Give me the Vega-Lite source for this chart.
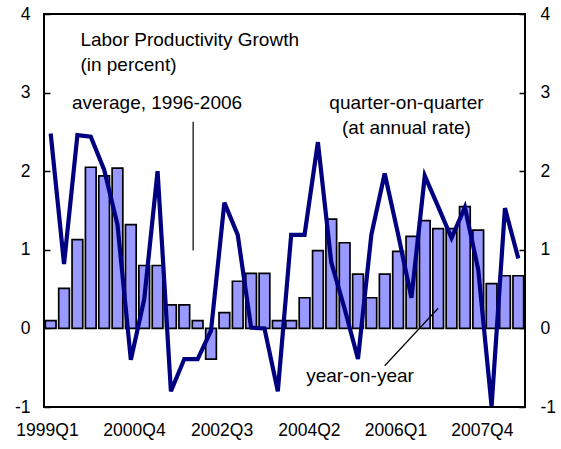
{
  "$schema": "https://vega.github.io/schema/vega-lite/v6.json",
  "width": 481,
  "height": 393,
  "autosize": "none",
  "padding": {"left": 44, "top": 14, "right": 36, "bottom": 42},
  "background": "white",
  "config": {
    "font": "Liberation Sans",
    "view": {"stroke": "#000", "strokeWidth": 2},
    "axis": {"grid": false, "labelColor": "#000", "labelFont": "Liberation Sans", "labelFontSize": 17.5, "domain": false}
  },
  "datasets": {
    "prod": [
      {"q": "1999Q1", "yoy": 0.10, "qoq": 2.48},
      {"q": "1999Q2", "yoy": 0.51, "qoq": 0.82},
      {"q": "1999Q3", "yoy": 1.13, "qoq": 2.46},
      {"q": "1999Q4", "yoy": 2.05, "qoq": 2.44},
      {"q": "2000Q1", "yoy": 1.94, "qoq": 2.02},
      {"q": "2000Q2", "yoy": 2.04, "qoq": 1.32},
      {"q": "2000Q3", "yoy": 1.32, "qoq": -0.40},
      {"q": "2000Q4", "yoy": 0.80, "qoq": 0.37},
      {"q": "2001Q1", "yoy": 0.80, "qoq": 2.00},
      {"q": "2001Q2", "yoy": 0.30, "qoq": -0.80},
      {"q": "2001Q3", "yoy": 0.30, "qoq": -0.39},
      {"q": "2001Q4", "yoy": 0.10, "qoq": -0.39},
      {"q": "2002Q1", "yoy": -0.39, "qoq": -0.03},
      {"q": "2002Q2", "yoy": 0.20, "qoq": 1.60},
      {"q": "2002Q3", "yoy": 0.60, "qoq": 1.19},
      {"q": "2002Q4", "yoy": 0.70, "qoq": 0.01},
      {"q": "2003Q1", "yoy": 0.70, "qoq": 0.00},
      {"q": "2003Q2", "yoy": 0.10, "qoq": -0.80},
      {"q": "2003Q3", "yoy": 0.10, "qoq": 1.19},
      {"q": "2003Q4", "yoy": 0.39, "qoq": 1.19},
      {"q": "2004Q1", "yoy": 0.99, "qoq": 2.37},
      {"q": "2004Q2", "yoy": 1.39, "qoq": 0.84},
      {"q": "2004Q3", "yoy": 1.09, "qoq": 0.25},
      {"q": "2004Q4", "yoy": 0.69, "qoq": -0.39},
      {"q": "2005Q1", "yoy": 0.39, "qoq": 1.19},
      {"q": "2005Q2", "yoy": 0.69, "qoq": 1.97},
      {"q": "2005Q3", "yoy": 0.98, "qoq": 1.20},
      {"q": "2005Q4", "yoy": 1.17, "qoq": 0.39},
      {"q": "2006Q1", "yoy": 1.37, "qoq": 1.94},
      {"q": "2006Q2", "yoy": 1.27, "qoq": 1.55},
      {"q": "2006Q3", "yoy": 1.27, "qoq": 1.15},
      {"q": "2006Q4", "yoy": 1.55, "qoq": 1.54},
      {"q": "2007Q1", "yoy": 1.25, "qoq": 0.75},
      {"q": "2007Q2", "yoy": 0.57, "qoq": -0.99},
      {"q": "2007Q3", "yoy": 0.67, "qoq": 1.53},
      {"q": "2007Q4", "yoy": 0.67, "qoq": 0.89}
    ],
    "notesTitle": [
      {"q": "1999Q3", "v": 3.67, "label": "Labor Productivity Growth"},
      {"q": "1999Q3", "v": 3.35, "label": "(in percent)"}
    ],
    "notesAvg": [
      {"q": "1999Q2", "v": 2.87, "label": "average, 1996-2006"}
    ],
    "notesQoq": [
      {"q": "2005Q4", "v": 2.865, "label": "quarter-on-quarter"},
      {"q": "2005Q4", "v": 2.545, "label": "(at annual rate)"}
    ],
    "notesYoy": [
      {"q": "2004Q4", "v": -0.6, "label": "year-on-year"}
    ],
    "pointerAvg": [
      {"q": "2001Q4", "v": 2.63, "v2": 0.99}
    ],
    "pointerYoy": [
      {"q": "2005Q2", "q2": "2006Q2", "v": -0.475, "v2": 0.256}
    ]
  },
  "layer": [
    {
      "data": {"name": "prod"},
      "mark": {"type": "bar", "fill": "#9999ff", "stroke": "#000", "strokeWidth": 1.7},
      "encoding": {
        "x": {
          "field": "q", "type": "ordinal", "sort": null,
          "scale": {"paddingInner": 0.2, "paddingOuter": 0.1},
          "axis": {
            "title": null, "ticks": false, "labelAngle": 0, "labelPadding": 14,
            "values": ["1999Q1", "2000Q4", "2002Q3", "2004Q2", "2006Q1", "2007Q4"],
            "labelOffset": {
              "condition": [
                {"test": "datum.value == '2000Q4'", "value": -9.7},
                {"test": "datum.value == '2002Q3'", "value": -15.7},
                {"test": "datum.value == '2004Q2'", "value": -21.8},
                {"test": "datum.value == '2006Q1'", "value": -28.8},
                {"test": "datum.value == '2007Q4'", "value": -36}
              ],
              "value": -3.2
            }
          }
        },
        "y": {
          "field": "yoy", "type": "quantitative",
          "scale": {"domain": [-1, 4], "nice": false, "zero": false},
          "axis": {"title": null, "values": [-1, 0, 1, 2, 3, 4], "labelExpr": "datum.value + ''", "tickSize": -6, "tickColor": "#000", "tickWidth": 1.5, "labelPadding": 20}
        }
      }
    },
    {
      "mark": {"type": "rule", "color": "#000", "strokeWidth": 2},
      "encoding": {"y": {"datum": 0, "type": "quantitative", "axis": null}}
    },
    {
      "mark": {"type": "rule", "color": "#000", "strokeWidth": 1.5},
      "encoding": {"y": {"datum": 0.92, "type": "quantitative", "axis": null}}
    },
    {
      "data": {"name": "prod"},
      "mark": {"type": "line", "color": "#000080", "strokeWidth": 4.2, "strokeJoin": "miter"},
      "encoding": {
        "x": {"field": "q", "type": "ordinal", "sort": null},
        "y": {
          "field": "qoq", "type": "quantitative",
          "axis": {"orient": "right", "title": null, "values": [-1, 0, 1, 2, 3, 4], "labelExpr": "datum.value + ''", "tickSize": -6, "tickColor": "#000", "tickWidth": 1.5, "labelPadding": 21}
        }
      }
    },
    {
      "data": {"name": "pointerAvg"},
      "mark": {"type": "rule", "color": "#000", "strokeWidth": 1.2, "xOffset": -4.5},
      "encoding": {
        "x": {"field": "q", "type": "ordinal", "sort": null},
        "y": {"field": "v", "type": "quantitative", "axis": null},
        "y2": {"field": "v2"}
      }
    },
    {
      "data": {"name": "pointerYoy"},
      "mark": {"type": "rule", "color": "#000", "strokeWidth": 1.2},
      "encoding": {
        "x": {"field": "q", "type": "ordinal", "sort": null},
        "x2": {"field": "q2"},
        "y": {"field": "v", "type": "quantitative", "axis": null},
        "y2": {"field": "v2"}
      }
    },
    {
      "data": {"name": "notesTitle"},
      "mark": {"type": "text", "fontSize": 19, "baseline": "middle", "align": "left", "color": "#000", "dx": 3},
      "encoding": {
        "x": {"field": "q", "type": "ordinal", "sort": null},
        "y": {"field": "v", "type": "quantitative", "axis": null},
        "text": {"field": "label"}
      }
    },
    {
      "data": {"name": "notesAvg"},
      "mark": {"type": "text", "fontSize": 19, "baseline": "middle", "align": "left", "color": "#000", "dx": 8},
      "encoding": {
        "x": {"field": "q", "type": "ordinal", "sort": null},
        "y": {"field": "v", "type": "quantitative", "axis": null},
        "text": {"field": "label"}
      }
    },
    {
      "data": {"name": "notesQoq"},
      "mark": {"type": "text", "fontSize": 19, "baseline": "middle", "align": "center", "color": "#000", "dx": -5},
      "encoding": {
        "x": {"field": "q", "type": "ordinal", "sort": null},
        "y": {"field": "v", "type": "quantitative", "axis": null},
        "text": {"field": "label"}
      }
    },
    {
      "data": {"name": "notesYoy"},
      "mark": {"type": "text", "fontSize": 19, "baseline": "middle", "align": "center", "color": "#000", "dx": 2},
      "encoding": {
        "x": {"field": "q", "type": "ordinal", "sort": null},
        "y": {"field": "v", "type": "quantitative", "axis": null},
        "text": {"field": "label"}
      }
    }
  ],
  "resolve": {"scale": {"y": "shared"}, "axis": {"y": "independent"}}
}
